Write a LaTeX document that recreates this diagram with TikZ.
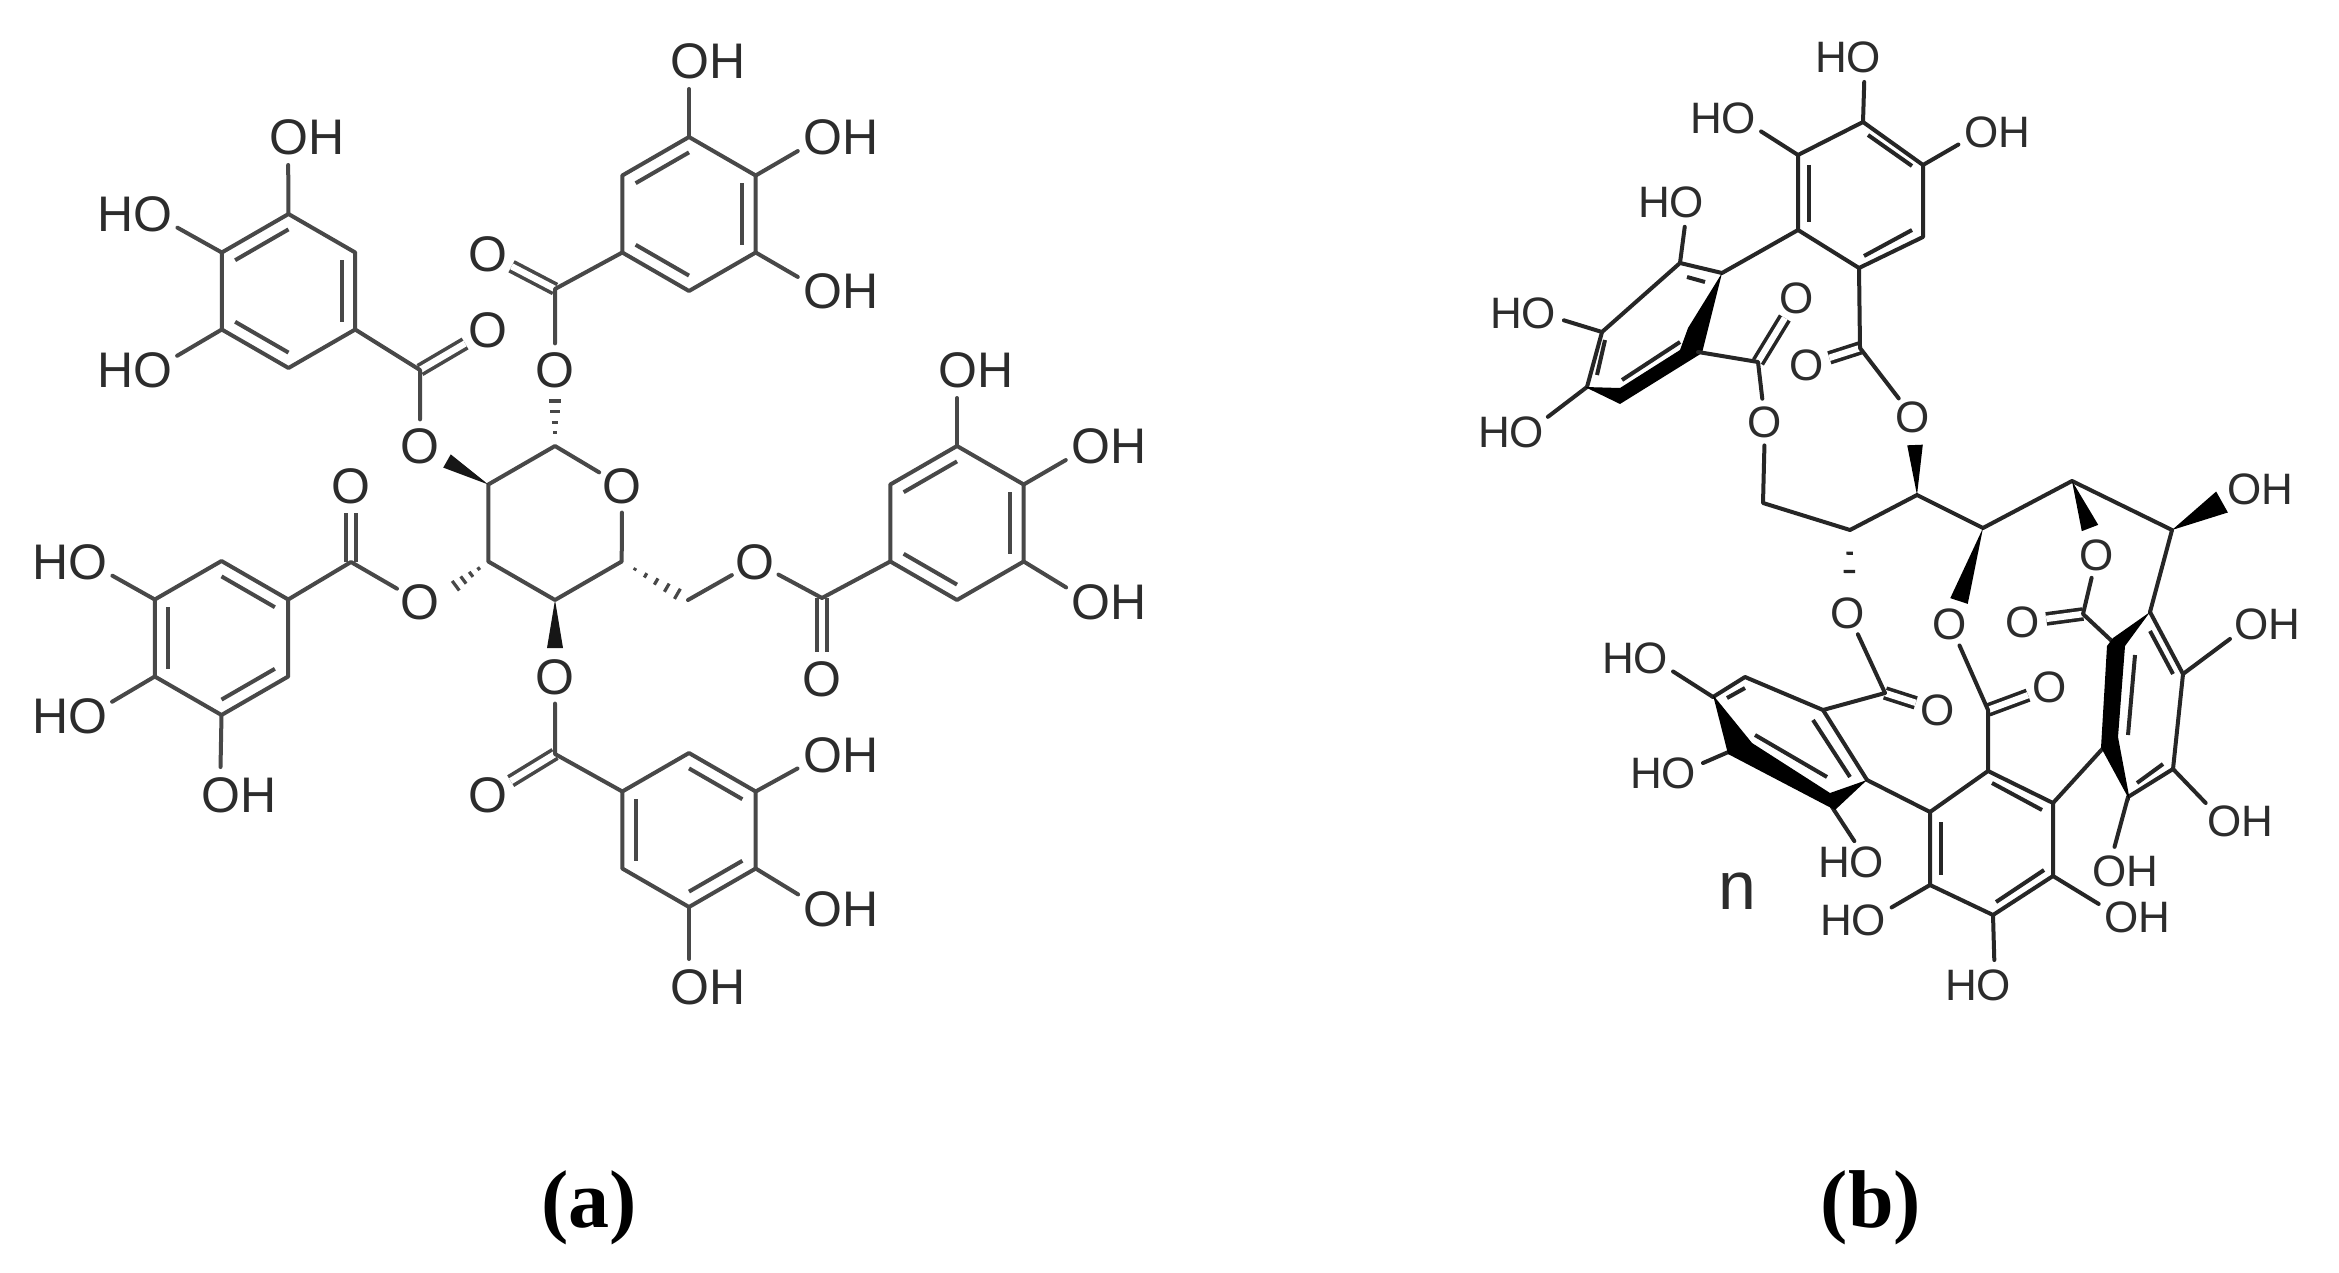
\documentclass[tikz,border=0pt]{standalone}
\usepackage{fontspec}
\setmainfont{Liberation Sans}
\newfontfamily\capfont{Liberation Serif}
\usetikzlibrary{calc}
\definecolor{bondA}{HTML}{484848}
\definecolor{textA}{HTML}{2C2C2C}
\definecolor{bondB}{HTML}{262626}
\definecolor{textB}{HTML}{2C2C2C}
\tikzset{
  bnd/.style={line width=2pt,line join=round,line cap=round},
  dbnd/.style={line width=1.8pt,double,double distance=3.2pt,draw=#1},
  lblA/.style={inner sep=0pt,text=textA,font=\fontsize{25}{25}\selectfont},
  lblB/.style={inner sep=0pt,text=textB,font=\fontsize{22}{22}\selectfont},
  atomA/.style={circle,inner sep=0pt,minimum size=26pt,text=textA,font=\fontsize{25}{25}\selectfont},
  atomB/.style={circle,inner sep=0pt,minimum size=23pt,text=textB,font=\fontsize{22}{22}\selectfont},
  toO/.style={shorten >=14pt},
  toOb/.style={shorten >=12.5pt},
  caption/.style={inner sep=0pt,text=black,font=\capfont\bfseries\fontsize{41}{41}\selectfont}
}
% regular ring: name, centre
\newcommand\hexr[3]{%
  \coordinate (#1c) at (#2,#3);
  \coordinate (#1t) at (#2,#3-77);
  \coordinate (#1ur) at (#2+66.7,#3-38.5);
  \coordinate (#1lr) at (#2+66.7,#3+38.5);
  \coordinate (#1b) at (#2,#3+77);
  \coordinate (#1ll) at (#2-66.7,#3+38.5);
  \coordinate (#1ul) at (#2-66.7,#3-38.5);
}
\newcommand\ringdraw[1]{\draw[bnd,draw=bondA] (#1t)--(#1ur)--(#1lr)--(#1b)--(#1ll)--(#1ul)--cycle;}
\newcommand\dbin[3]{\draw[bnd,draw=bondA,line cap=butt] ($(#1)!.2!(#3)$)--($(#2)!.2!(#3)$);}
\newcommand\lOH[5]{\node[#5] (#1) at (#2+#4,#3) {OH}; \coordinate (#1o) at (#2,#3);}
\newcommand\lHO[5]{\node[#5] (#1) at (#2-#4,#3) {HO}; \coordinate (#1o) at (#2,#3);}
\newcommand\wdg[4]{\fill[#4] (#1)--($(#2)!#3!90:(#1)$)--($(#2)!#3!-90:(#1)$)--cycle;}
\newcommand\hashb[5]{%
  \foreach \hf in {#4}{%
    \pgfmathsetmacro\hw{\hf*#3}%
    \draw[#5,line width=1.6pt] ($(#1)!\hf!(#2)!\hw pt!90:(#2)$)--($(#1)!\hf!(#2)!\hw pt!-90:(#2)$);
  }%
}
\begin{document}
\begin{tikzpicture}[x=0.5pt,y=-0.5pt]
\useasboundingbox (0,0) rectangle (2339,1273);
\fill[white] (0,0) rectangle (2339,1273);
%%%%%%%%%%%%%%%%% (a)
\hexr{A}{288.5}{291}
\hexr{B}{689}{214}
\hexr{C}{957}{523}
\hexr{D}{221.5}{638}
\hexr{E}{689}{830}
\hexr{S}{555}{523}
% hetero atoms
\node[atomA] (Oa1) at (488,330) {O};
\node[atomA] (Oa2) at (420,446) {O};
\node[atomA] (Ob1) at (488,254) {O};
\node[atomA] (Ob2) at (555,370) {O};
\node[atomA] (Od1) at (351,486) {O};
\node[atomA] (Od2) at (420,602) {O};
\node[atomA] (Oe1) at (488,795) {O};
\node[atomA] (Oe2) at (555,677) {O};
\node[atomA] (Oc1) at (822,679) {O};
\node[atomA] (Oc2) at (755,562) {O};
\node[atomA] (OS) at (622,486) {O};
\coordinate (Xa) at (420,370);
\coordinate (Xb) at (555,289);
\coordinate (Xd) at (351,562);
\coordinate (Xe) at (555,754);
\coordinate (Xc) at (822,598);
\coordinate (CH) at (688,600);
\coordinate (wa) at (447,461);
\coordinate (we) at (555,648);
\coordinate (hb) at (555,393);
\coordinate (hd) at (450,590);
% C=O
\draw[dbnd=bondA] (Xa)--(Oa1);
\draw[dbnd=bondA] (Xb)--(Ob1);
\draw[dbnd=bondA] (Xd)--(Od1);
\draw[dbnd=bondA] (Xe)--(Oe1);
\draw[dbnd=bondA] (Xc)--(Oc1);
% rings
\ringdraw{A}\ringdraw{B}\ringdraw{C}\ringdraw{D}\ringdraw{E}
\dbin{Aul}{At}{Ac}\dbin{Aur}{Alr}{Ac}\dbin{All}{Ab}{Ac}
\dbin{Bul}{Bt}{Bc}\dbin{Bur}{Blr}{Bc}\dbin{Bll}{Bb}{Bc}
\dbin{Cul}{Ct}{Cc}\dbin{Cur}{Clr}{Cc}\dbin{Cll}{Cb}{Cc}
\dbin{Dt}{Dur}{Dc}\dbin{Dul}{Dll}{Dc}\dbin{Dlr}{Db}{Dc}
\dbin{Et}{Eur}{Ec}\dbin{Eul}{Ell}{Ec}\dbin{Elr}{Eb}{Ec}
% OH groups
\lOH{a1}{288}{137}{19}{lblA}
\lHO{a2}{153}{214}{18}{lblA}
\lHO{a3}{153}{370}{18}{lblA}
\lOH{b1}{689}{61}{19}{lblA}
\lOH{b2}{822}{137}{19}{lblA}
\lOH{b3}{822}{291}{19}{lblA}
\lOH{c1}{957}{370}{19}{lblA}
\lOH{c2}{1090}{446}{19}{lblA}
\lOH{c3}{1090}{602}{19}{lblA}
\lHO{d1}{88}{562}{18}{lblA}
\lHO{d2}{88}{716}{18}{lblA}
\lOH{d3}{220}{795}{19}{lblA}
\lOH{e1}{822}{755}{19}{lblA}
\lOH{e2}{822}{909}{19}{lblA}
\lOH{e3}{689}{987}{19}{lblA}
\foreach \u/\v in {At/a1o,Aul/a2o,All/a3o,Bt/b1o,Bur/b2o,Blr/b3o,Ct/c1o,Cur/c2o,Clr/c3o,Dul/d1o,Dll/d2o,Db/d3o,Eur/e1o,Elr/e2o,Eb/e3o}
  \draw[bnd,draw=bondA,toO] (\u)--(\v);
% ester links
\draw[bnd,draw=bondA] (Alr)--(Xa)--(Oa2);
\draw[bnd,draw=bondA] (Bll)--(Xb)--(Ob2);
\draw[bnd,draw=bondA] (Dur)--(Xd)--(Od2);
\draw[bnd,draw=bondA] (Eul)--(Xe)--(Oe2);
\draw[bnd,draw=bondA] (Cll)--(Xc)--(Oc2)--(CH);
% sugar
\draw[bnd,draw=bondA] (OS)--(St)--(Sul)--(Sll)--(Sb)--(Slr)--(OS);
\wdg{Sul}{wa}{3.8pt}{bondA!30!black}
\wdg{Sb}{we}{4pt}{bondA!30!black}
\hashb{St}{hb}{3.5}{.25,.45,.65,.85,1}{bondA}
\hashb{Sll}{hd}{3.5}{.25,.45,.65,.85,1}{bondA}
\hashb{Slr}{CH}{3.5}{.2,.36,.52,.68,.84}{bondA}
%%%%%%%%%%%%%%%%% (b)
% top ring
\coordinate (Tt) at (1863,122);
\coordinate (Tur) at (1923,165);
\coordinate (Tlr) at (1923,237);
\coordinate (Tb) at (1859,268);
\coordinate (Tll) at (1798,230);
\coordinate (Tul) at (1798,155);
% left ring
\coordinate (La) at (1722,273);
\coordinate (Lb) at (1680,263);
\coordinate (Lc) at (1602,332);
\coordinate (Ld) at (1587,387);
\coordinate (Lf) at (1698,352);
\coordinate (CL) at (1758,362);
\coordinate (CT) at (1860,348);
% chain
\coordinate (CH2) at (1763,503);
\coordinate (G1) at (1850,530);
\coordinate (G2) at (1917,495);
\coordinate (G3) at (1983,528);
\coordinate (G4) at (2072,481);
\coordinate (G5) at (2172,530);
% bottom ring
\coordinate (Pt) at (1988,771);
\coordinate (Pur) at (2053,803);
\coordinate (Plr) at (2053,876);
\coordinate (Pb) at (1993,915);
\coordinate (Pll) at (1930,885);
\coordinate (Pul) at (1930,812);
\coordinate (CP) at (1988,710);
% right ring
\coordinate (Q) at (2150,612);
\coordinate (P2) at (2115,644);
\coordinate (Ra) at (2183,674);
\coordinate (Rb) at (2173,769);
\coordinate (Rc) at (2128,797);
\coordinate (Rd) at (2105,746);
\coordinate (CR) at (2083,614);
% lower left ring
\coordinate (N1) at (1823,710);
\coordinate (N2) at (1867,780);
\coordinate (N3) at (1832,807);
\coordinate (N4) at (1733,750);
\coordinate (N5) at (1713,697);
\coordinate (N6) at (1745,677);
\coordinate (CN) at (1885,693);
% atoms
\node[atomB] (O1) at (1797,298) {O};
\node[atomB] (O2) at (1765,422) {O};
\node[atomB] (O3) at (1807,365) {O};
\node[atomB] (O4) at (1913,417) {O};
\node[atomB] (O5) at (1848,613) {O};
\node[atomB] (O6) at (1938,710) {O};
\node[atomB] (O7) at (1950,624) {O};
\node[atomB] (O8) at (2050,687) {O};
\node[atomB] (O9) at (2097,555) {O};
\node[atomB] (O10) at (2023,622) {O};
\coordinate (w4a) at (1915,445);
\coordinate (w7a) at (1959,601);
\coordinate (w9a) at (2090,528);
\coordinate (wOH) at (2222,502);
\coordinate (h5) at (1849,591);
% C=O
\draw[dbnd=bondB] (CL)--(O1);
\draw[dbnd=bondB] (CT)--(O3);
\draw[dbnd=bondB] (CN)--(O6);
\draw[dbnd=bondB] (CP)--(O8);
\draw[dbnd=bondB] (CR)--(O10);
% labels
\lHO{t1}{1865}{57}{17}{lblB}
\lHO{t2}{1740}{118}{17}{lblB}
\lOH{t3}{1980}{132}{17}{lblB}
\lHO{l1}{1688}{202}{17}{lblB}
\lHO{l2}{1540}{313}{17}{lblB}
\lHO{l3}{1528}{432}{17}{lblB}
\lHO{n1}{1652}{658}{17}{lblB}
\lHO{n2}{1680}{773}{17}{lblB}
\lHO{n3}{1868}{862}{17}{lblB}
\lHO{p1}{1870}{920}{17}{lblB}
\lHO{p2}{1995}{985}{17}{lblB}
\lOH{p3}{2120}{917}{17}{lblB}
\lOH{r1}{2108}{871}{17}{lblB}
\lOH{r2}{2223}{821}{17}{lblB}
\lOH{r3}{2250}{624}{17}{lblB}
\lOH{g1}{2243}{489}{17}{lblB}
\foreach \u/\v in {Tt/t1o,Tul/t2o,Tur/t3o,Lb/l1o,Lc/l2o,Ld/l3o,N5/n1o,N4/n2o,N3/n3o,Pll/p1o,Pb/p2o,Plr/p3o,Rc/r1o,Rb/r2o,Ra/r3o}
  \draw[bnd,draw=bondB,toOb] (\u)--(\v);
% top ring
\draw[bnd,draw=bondB] (Tt)--(Tur)--(Tlr)--(Tb)--(Tll)--(Tul)--cycle;
\draw[bnd,draw=bondB,line cap=butt] (1868,135)--(1912,166);
\draw[bnd,draw=bondB,line cap=butt] (1809,165)--(1809,222);
\draw[bnd,draw=bondB,line cap=butt] (1864,256)--(1912,230);
% left ring
\draw[bnd,draw=bondB] (Tll)--(La)--(Lb)--(Lc)--(Ld);
\draw[bnd,draw=bondB,line cap=butt] (1687,277)--(1705,282);
\draw[bnd,draw=bondB,line cap=butt] (1605,340)--(1597,375);
\draw[bnd,draw=bondB,line cap=butt] (1622,380)--(1680,342);
\fill[black] (1722,273)--(1702,353)--(1620,404)--(1585,387)--(1620,388)--(1680,350)--(1688,328)--cycle;
\draw[bnd,draw=bondB] (Lf)--(CL)--(O2);
\draw[bnd,draw=bondB] (Tb)--(CT)--(O4);
% chain
\draw[bnd,draw=bondB] (O2)--(CH2)--(G1)--(G2)--(G3)--(G4)--(G5);
\wdg{G2}{w4a}{3.9pt}{black}
\wdg{G3}{w7a}{4.6pt}{black}
\wdg{G4}{w9a}{4.4pt}{black}
\wdg{G5}{wOH}{6pt}{black}
\hashb{G1}{h5}{4.2}{.38,.68,1}{bondB}
\draw[bnd,draw=bondB] (O5)--(CN)--(N1);
\draw[bnd,draw=bondB] (O7)--(CP)--(Pt);
\draw[bnd,draw=bondB] (G5)--(Q);
\draw[bnd,draw=bondB] (O9)--(CR)--(P2);
% bottom ring
\draw[bnd,draw=bondB] (Pt)--(Pur)--(Plr)--(Pb)--(Pll)--(Pul)--cycle;
\draw[bnd,draw=bondB,line cap=butt] (1992,783)--(2042,810);
\draw[bnd,draw=bondB,line cap=butt] (1941,822)--(1941,875);
\draw[bnd,draw=bondB,line cap=butt] (1996,902)--(2044,870);
\draw[bnd,draw=bondB] (N2)--(Pul);
\draw[bnd,draw=bondB] (Pur)--(Rd);
% right ring
\draw[bnd,draw=bondB] (Q)--(Ra)--(Rb)--(Rc);
\draw[bnd,draw=bondB,line cap=butt] (2150,631)--(2173,674);
\draw[bnd,draw=bondB,line cap=butt] (2135,655)--(2128,735);
\draw[bnd,draw=bondB,line cap=butt] (2163,764)--(2137,783);
\fill[black] (2150,612)--(2125,646)--(2118,737)--(2130,801)--(2101,747.5)--(2107,646)--(2113,638)--cycle;
% lower left ring
\draw[bnd,draw=bondB] (N5)--(N6)--(N1)--(N2);
\draw[bnd,draw=bondB,line cap=butt] (1813,720)--(1850,777);
\draw[bnd,draw=bondB,line cap=butt] (1755,735)--(1827,777);
\draw[bnd,draw=bondB,line cap=butt] (1727,698)--(1745,688);
\fill[black] (1713,695)--(1752,743)--(1830,793)--(1867,780)--(1835,810)--(1728,754)--cycle;
% n and captions
\node[lblB,font=\fontsize{34}{34}\selectfont] (nn) at (1737,891) {n};
\node[caption] (capa) at (589,1208) {(a)};
\node[caption] (capb) at (1871,1208) {(b)};
\end{tikzpicture}
\end{document}
